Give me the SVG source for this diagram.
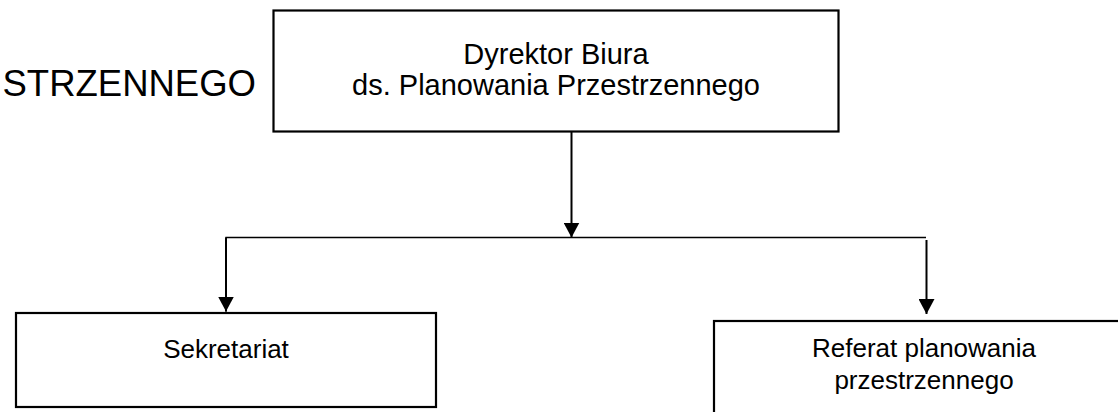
<svg xmlns="http://www.w3.org/2000/svg" width="1118" height="412" viewBox="0 0 1118 412">
<style>
.box{fill:#ffffff;stroke:#000000;stroke-width:2.2}
.t{font-family:"Liberation Sans",Arial,sans-serif;fill:#000000}
.c{text-anchor:middle}
.con{fill:none;stroke:#000000;stroke-width:2}
.thin{fill:none;stroke:#000000;stroke-width:1.3}
</style>
<defs>
<marker id="arr" viewBox="0 0 15 16" refX="15" refY="8" markerWidth="15" markerHeight="16" markerUnits="userSpaceOnUse" orient="auto">
<path d="M0,0 L15,8 L0,16 z" fill="#000000"/>
</marker>
</defs>
<rect width="1118" height="412" fill="#ffffff"/>
<text class="t" x="256" y="96" font-size="36.5" text-anchor="end">STRZENNEGO</text>
<g id="connectors">
<line class="con" x1="571.5" y1="132" x2="571.5" y2="237.5" marker-end="url(#arr)"/>
<polyline class="thin" points="226,311.5 226,237.5 926,237.5"/>
<line class="con" x1="226" y1="237.5" x2="226" y2="311.5" marker-end="url(#arr)"/>
<line class="con" x1="926.5" y1="240" x2="926.5" y2="314" marker-end="url(#arr)"/>
</g>
<g id="node-dyrektor">
<rect class="box" x="273.5" y="10.5" width="565" height="121"/>
<text class="t c" x="556" y="64" font-size="29">Dyrektor Biura</text>
<text class="t c" x="556" y="95" font-size="29">ds. Planowania Przestrzennego</text>
</g>
<g id="node-sekretariat">
<rect class="box" x="16" y="313" width="420" height="94"/>
<text class="t c" x="226" y="357.5" font-size="26">Sekretariat</text>
</g>
<g id="node-referat">
<rect class="box" x="714" y="321" width="460" height="130"/>
<text class="t c" x="924" y="356.5" font-size="26">Referat planowania</text>
<text class="t c" x="924" y="388.5" font-size="26">przestrzennego</text>
</g>
</svg>
